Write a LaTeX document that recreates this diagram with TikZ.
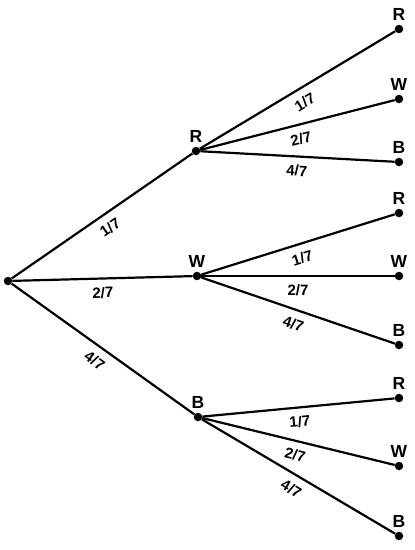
\documentclass[tikz,border=0pt]{standalone}
\usepackage{fontspec}
\setmainfont{Liberation Sans}
\begin{document}
\begin{tikzpicture}[x=1pt,y=-1pt,
  dot/.style={circle,fill=black,inner sep=0pt,minimum size=8.5pt},
  edge/.style={line width=2.2pt},
  lbl/.style={midway,sloped,below=6.5pt,inner sep=1pt,font=\fontsize{15}{17}\selectfont\bfseries},
  letter/.style={label={[label distance=3.5pt,inner sep=0pt,font=\fontsize{17.5}{20}\selectfont\bfseries]above:#1}}]
\useasboundingbox (0,0) rectangle (415,550);
\node[dot] (root) at (8,281) {};
\node[dot,letter=R] (r) at (196,151) {};
\node[dot,letter=W] (w) at (197,276) {};
\node[dot,letter=B] (b) at (198,417) {};
\node[dot,letter=R] (rr) at (399,29) {};
\node[dot,letter=W] (rw) at (399,99) {};
\node[dot,letter=B] (rb) at (399,162) {};
\node[dot,letter=R] (wr) at (399,213) {};
\node[dot,letter=W] (ww) at (399,276) {};
\node[dot,letter=B] (wb) at (399,345) {};
\node[dot,letter=R] (br) at (399,398) {};
\node[dot,letter=W] (bw) at (399,466) {};
\node[dot,letter=B] (bb) at (399,536) {};
\draw[edge] (root) -- node[lbl]{1/7} (r);
\draw[edge] (root) -- node[lbl]{2/7} (w);
\draw[edge] (root) -- node[lbl]{4/7} (b);
\draw[edge] (r) -- node[lbl]{1/7} (rr);
\draw[edge] (r) -- node[lbl]{2/7} (rw);
\draw[edge] (r) -- node[lbl]{4/7} (rb);
\draw[edge] (w) -- node[lbl]{1/7} (wr);
\draw[edge] (w) -- node[lbl]{2/7} (ww);
\draw[edge] (w) -- node[lbl]{4/7} (wb);
\draw[edge] (b) -- node[lbl]{1/7} (br);
\draw[edge] (b) -- node[lbl]{2/7} (bw);
\draw[edge] (b) -- node[lbl]{4/7} (bb);
\end{tikzpicture}
\end{document}
